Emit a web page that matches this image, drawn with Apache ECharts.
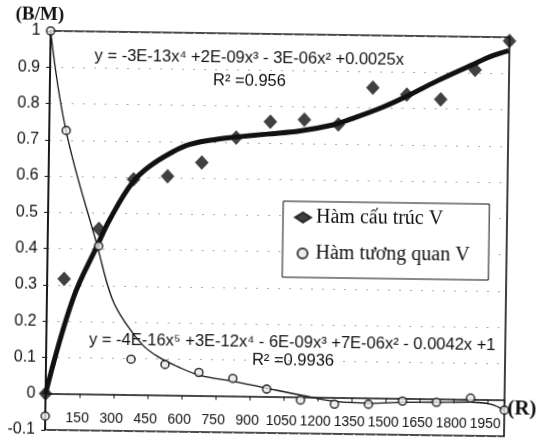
<!DOCTYPE html>
<html>
<head>
<meta charset="utf-8">
<script src="https://cdn.jsdelivr.net/npm/echarts@6/dist/echarts.min.js"></script>
<style>
  html, body { margin: 0; padding: 0; background: #fff; }
  #chart { width: 541px; height: 441px; transform: rotate(0.8deg); transform-origin: 50% 50%; }
</style>
</head>
<body>
<div id="chart"></div>
<script>
// Lag distances (R) where both functions were evaluated
const lags = [0, 75, 225, 375, 525, 675, 825, 975, 1125, 1275, 1425, 1575, 1725, 1875, 2025];
// Structure function V (B/M)
const structureV = [0, 0.317, 0.456, 0.594, 0.604, 0.643, 0.713, 0.758, 0.765, 0.753, 0.856, 0.838, 0.826, 0.909, 0.99];
// Correlation function V (B/M); lag 0 carries two values
const correlationLags = [0, 0, 75, 225, 375, 525, 675, 825, 975, 1125, 1275, 1425, 1575, 1725, 1875, 2025];
const correlationV = [1, -0.062, 0.726, 0.409, 0.098, 0.085, 0.064, 0.049, 0.021, -0.008, -0.018, -0.017, -0.007, -0.009, 0.004, -0.028];

// Polynomial trend lines, sampled along their drawn path
const structureTrendLags = [0, 115, 219, 275, 370, 448, 548, 623, 741, 829, 962, 1107, 1252, 1327, 1471, 1576, 1708, 1883, 1940, 2022];
const structureTrendV = [0, 0.262, 0.41, 0.485, 0.585, 0.632, 0.672, 0.693, 0.708, 0.715, 0.724, 0.734, 0.752, 0.768, 0.803, 0.834, 0.877, 0.929, 0.946, 0.963];
const correlationTrendLags = [0, 75, 219, 288, 356, 428, 491, 579, 681, 827, 978, 1132, 1278, 1432, 1578, 1728, 1874, 1963, 2025];
const correlationTrendV = [1, 0.723, 0.409, 0.264, 0.191, 0.136, 0.107, 0.080, 0.056, 0.041, 0.023, 0.005, -0.010, -0.014, -0.010, -0.009, -0.007, -0.012, -0.028];

// Axis settings and the R tick labels printed under the zero line
const xTickStep = 150;
const xMax = 2025;
const xTickLabels = [150, 300, 450, 600, 750, 900, 1050, 1200, 1350, 1500, 1650, 1800, 1950];
const yMin = -0.1, yMax = 1, yStep = 0.1;

// Text labels
const seriesNames = ['Hàm cấu trúc V', 'Hàm tương quan V'];
const yAxisName = '(B/M)';
const xAxisName = '(R)';
const structureEq = 'y = -3E-13x⁴ +2E-09x³ - 3E-06x² +0.0025x';
const structureR2 = 'R² =0.956';
const correlationEq = 'y = -4E-16x⁵ +3E-12x⁴ - 6E-09x³ +7E-06x² - 0.0042x +1';
const correlationR2 = 'R² =0.9936';

const zip = (xs, ys) => xs.map((x, i) => [x, ys[i]]);
const ink = '#111';
const sans = 'Liberation Sans, Arial, sans-serif';
const serif = 'Liberation Serif, Times New Roman, serif';

// Plot box inside the 541x441 canvas
const W = 541, H = 441;
const gridBox = { left: 48, right: 34, top: 34, bottom: 8 };
const plotH = H - gridBox.top - gridBox.bottom;
// Lift the horizontal axis line and ticks from the bottom edge up to y = 0
const xAxisLift = -plotH * (0 - yMin) / (yMax - yMin);

const chart = echarts.init(document.getElementById('chart'), null, { renderer: 'canvas' });

chart.setOption({
  animation: false,
  backgroundColor: '#fff',
  grid: Object.assign({
    show: true, borderColor: ink, borderWidth: 1.6,
    containLabel: false, outerBoundsMode: 'none'
  }, gridBox),
  xAxis: {
    type: 'value', min: 0, max: xMax, interval: xTickStep,
    position: 'bottom', offset: xAxisLift,
    axisLine: { onZero: false, lineStyle: { color: ink, width: 1.5 } },
    axisTick: { show: true, length: 4, lineStyle: { color: ink } },
    splitLine: { show: false },
    axisLabel: { show: false }
  },
  yAxis: {
    type: 'value', min: yMin, max: yMax, interval: yStep,
    axisLine: { show: true, onZero: false, lineStyle: { color: ink, width: 1.6 } },
    axisTick: { show: true, length: 4, lineStyle: { color: ink } },
    splitLine: { show: true, lineStyle: { color: '#aaaaaa', width: 1, type: [2, 9] } },
    axisLabel: {
      color: ink, fontFamily: sans, fontSize: 16, margin: 10,
      formatter: v => String(Math.round(v * 10) / 10)
    }
  },
  legend: {
    orient: 'vertical', left: 283, top: 201,
    data: seriesNames,
    itemWidth: 16, itemHeight: 10, itemGap: 16,
    padding: [6, 19, 14, 11],
    borderColor: ink, borderWidth: 1, backgroundColor: '#fff',
    textStyle: { fontFamily: serif, fontSize: 20, color: ink }
  },
  series: [
    {
      type: 'line', name: 'trend-structure', data: zip(structureTrendLags, structureTrendV),
      smooth: 0.4, showSymbol: false, silent: true,
      lineStyle: { color: ink, width: 5 }, z: 2
    },
    {
      type: 'line', name: 'trend-correlation', data: zip(correlationTrendLags, correlationTrendV),
      smooth: 0.4, showSymbol: false, silent: true,
      lineStyle: { color: ink, width: 1.3 }, z: 2
    },
    {
      type: 'scatter', name: seriesNames[0], data: zip(lags, structureV),
      symbol: 'diamond', symbolSize: [13, 14],
      itemStyle: { color: ink, borderColor: ink, borderWidth: 0.5 }, z: 4
    },
    {
      type: 'scatter', name: seriesNames[1], data: zip(correlationLags, correlationV),
      symbol: 'circle', symbolSize: 8,
      itemStyle: { color: '#e8e8e8', borderColor: ink, borderWidth: 1.6 }, z: 5
    }
  ]
});

const textEl = (x, y, text, font) => ({
  type: 'text', x, y, z: 100,
  style: { text, fill: ink, font, textAlign: 'center', textVerticalAlign: 'middle' }
});

// R tick labels, placed through the axis scale just below the zero line
const tickLabelEls = xTickLabels.map(v => {
  const p = chart.convertToPixel({ gridIndex: 0 }, [v, 0]);
  return textEl(p[0] - 2, p[1] + 24, String(v), '14px ' + sans);
});

chart.setOption({
  graphic: [
    textEl(37, 18, yAxisName, 'bold 19px ' + serif),
    textEl(524.5, 405.5, xAxisName, 'bold 21px ' + serif),
    textEl(247, 58.5, structureEq, '16.5px ' + sans),
    textEl(247.5, 81.5, structureR2, '16.5px ' + sans),
    textEl(294, 342, correlationEq, '16.5px ' + sans),
    textEl(295, 360, correlationR2, '16.5px ' + sans)
  ].concat(tickLabelEls)
});
</script>
</body>
</html>
